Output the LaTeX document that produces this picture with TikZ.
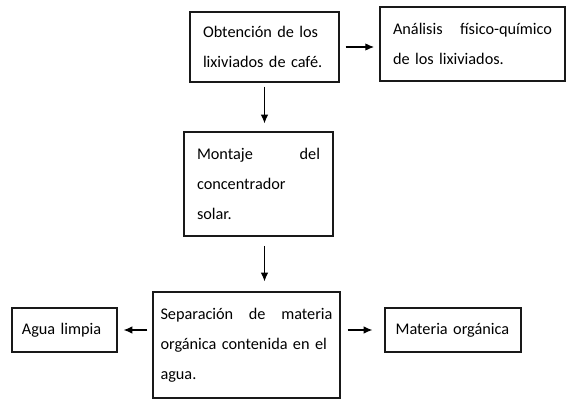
\documentclass[tikz,border=0pt]{standalone}
\usepackage{fontspec}
\setmainfont{Carlito}
\usetikzlibrary{arrows.meta}

\begin{document}
\begin{tikzpicture}[x=0.75pt,y=-0.75pt,font=\fontsize{12.2}{22.5}\selectfont,
  paso/.style={draw=black!90,line width=0.9pt,inner xsep=0pt,inner ysep=0pt,align=left},
  flecha/.style={-{Latex[length=6.5pt,width=5.5pt]},line width=0.8pt}]
\useasboundingbox (0,0) rectangle (567,400);
% cajas
\node[paso,minimum width=111.75pt,minimum height=52.5pt,text width=92.25pt] (obt) at (264.5,47) {Obtención de los\\lixiviados de café.};
\node[paso,minimum width=138.75pt,minimum height=55.5pt,text width=119.25pt] (ana) at (472.5,44) {Análisis\hfill físico-químico\\de los lixiviados.};
\node[paso,minimum width=111.75pt,minimum height=78pt,text width=92.25pt] (mon) at (258.5,184) {Montaje\hfill del\\concentrador\\solar.};
\node[paso,minimum width=140.25pt,minimum height=79.5pt,text width=129pt] (sep) at (246.5,345) {Separación\hfill de\hfill materia\\orgánica contenida en el\\agua.};
\node[paso,minimum width=78.75pt,minimum height=33pt,text width=64pt] (agua) at (64.5,330) {Agua limpia};
\node[paso,minimum width=102pt,minimum height=33pt,text width=86pt] (mat) at (453,330) {Materia\ orgánica};
% flechas
\draw[flecha,shorten <=4.5pt,shorten >=4pt] (obt.east) -- (obt.east -| ana.west);
\draw[flecha,shorten <=3pt,shorten >=6pt] (obt.south) -- (obt.south |- mon.north);
\draw[flecha,shorten <=7pt,shorten >=7.5pt] (mon.south -| obt.south) -- (sep.north -| obt.south);
\draw[flecha,shorten <=3.75pt,shorten >=4.5pt] (sep.west |- agua.east) -- (agua.east);
\draw[flecha,shorten <=5.25pt,shorten >=9pt] (sep.east |- mat.west) -- (mat.west);
\end{tikzpicture}
\end{document}
